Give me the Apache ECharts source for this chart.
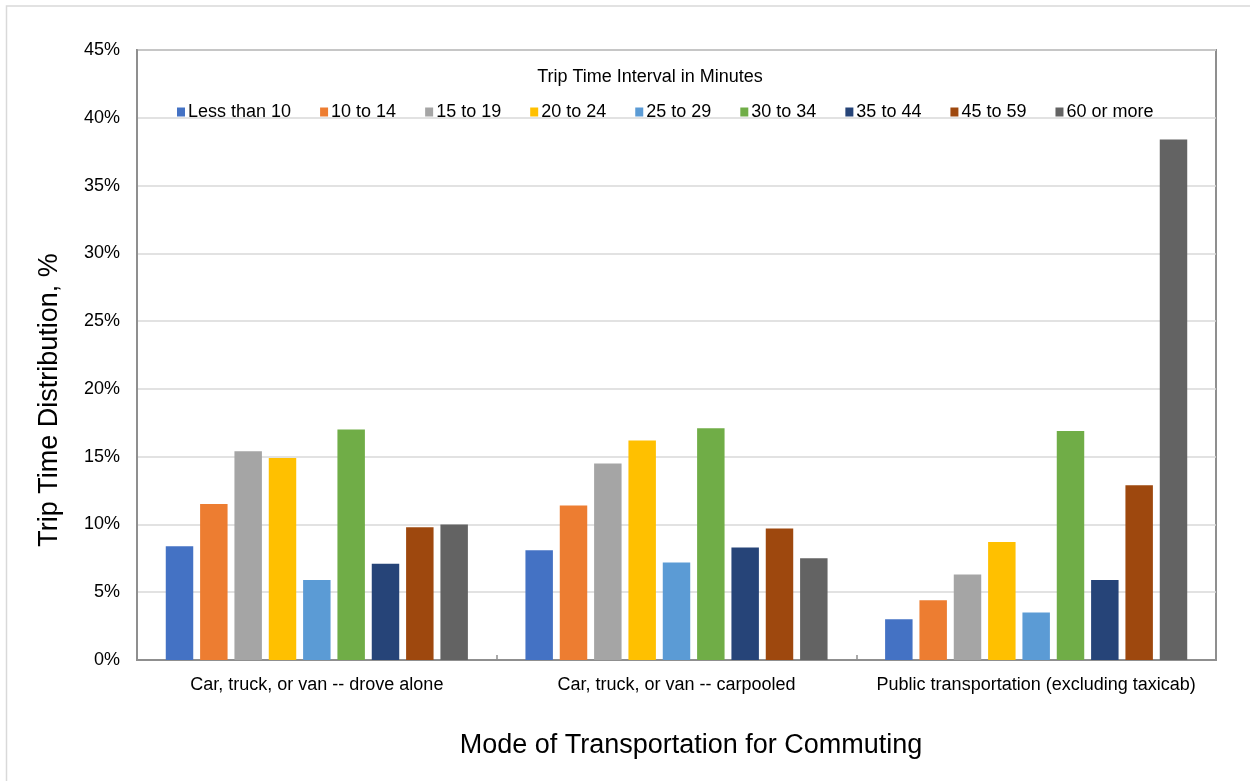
<!DOCTYPE html>
<html>
<head>
<meta charset="utf-8">
<script src="https://cdn.jsdelivr.net/npm/echarts@6/dist/echarts.min.js"></script>
<style>html,body{margin:0;padding:0;background:#fff;}#c{width:1250px;height:781px;}</style>
</head>
<body>
<div id="c"></div>
<script>
const categories = ["Car, truck, or van -- drove alone", "Car, truck, or van -- carpooled", "Public transportation (excluding taxicab)"];
const seriesNames = ["Less than 10", "10 to 14", "15 to 19", "20 to 24", "25 to 29", "30 to 34", "35 to 44", "45 to 59", "60 or more"];
const lessThan10 = [8.4, 8.1, 3.0];
const from10to14 = [11.5, 11.4, 4.4];
const from15to19 = [15.4, 14.5, 6.3];
const from20to24 = [14.9, 16.2, 8.7];
const from25to29 = [5.9, 7.2, 3.5];
const from30to34 = [17.0, 17.1, 16.9];
const from35to44 = [7.1, 8.3, 5.9];
const from45to59 = [9.8, 9.7, 12.9];
const sixtyOrMore = [10.0, 7.5, 38.4];
const yTicks = [0, 5, 10, 15, 20, 25, 30, 35, 40, 45];

const seriesData = [lessThan10, from10to14, from15to19, from20to24, from25to29, from30to34, from35to44, from45to59, sixtyOrMore];
const colors = ["#4472C4", "#ED7D31", "#A5A5A5", "#FFC000", "#5B9BD5", "#70AD47", "#264478", "#9E480E", "#636363"];
const font = "Liberation Sans, Arial, sans-serif";

const chart = echarts.init(document.getElementById('c'), null, {renderer: 'canvas'});
chart.setOption({
  animation: false,
  color: colors,
  textStyle: {fontFamily: font, color: '#000'},
  title: {
    text: 'Trip Time Interval in Minutes',
    left: 645, top: 63, textAlign: 'center',
    textStyle: {fontFamily: font, fontSize: 18, fontWeight: 'normal', color: '#000'}
  },
  legend: {
    data: seriesNames,
    left: 172, top: 98,
    itemWidth: 8, itemHeight: 9, itemGap: 29,
    icon: 'rect',
    textStyle: {fontFamily: font, fontSize: 18, color: '#000', padding: [0, 0, 0, -2]}
  },
  grid: {left: 137, right: 34, top: 50, bottom: 121, show: true, borderColor: '#8f8f8f', borderWidth: 2, containLabel: false},
  xAxis: {
    type: 'category',
    data: categories,
    axisLine: {lineStyle: {color: '#8f8f8f', width: 2}},
    axisTick: {show: true, inside: true, length: 5, interval: 0, lineStyle: {color: '#8f8f8f', width: 1.5}},
    axisLabel: {fontFamily: font, fontSize: 18, color: '#000', margin: 16, interval: 0}
  },
  yAxis: {
    type: 'value',
    min: 0, max: 45, interval: 5,
    axisLine: {show: true, lineStyle: {color: '#8f8f8f', width: 2}},
    axisTick: {show: false},
    splitLine: {lineStyle: {color: '#d9d9d9', width: 1.5}},
    axisLabel: {fontFamily: font, fontSize: 18, color: '#000', margin: 17, formatter: v => yTicks.includes(v) ? v + '%' : ''}
  },
  graphic: [
    {type: 'rect', shape: {x: 6.5, y: 6, width: 1400, height: 1000}, style: {fill: 'none', stroke: '#d9d9d9', lineWidth: 1.5}, silent: true, z: -1},
    {type: 'text', x: 691, y: 746, style: {text: 'Mode of Transportation for Commuting', font: '27px ' + font, fill: '#000', textAlign: 'center', textVerticalAlign: 'middle'}},
    {type: 'text', x: 50, y: 400, rotation: Math.PI / 2, style: {text: 'Trip Time Distribution, %', font: '27px ' + font, fill: '#000', textAlign: 'center', textVerticalAlign: 'middle'}}
  ],
  series: seriesNames.map((n, i) => ({
    name: n, type: 'bar', data: seriesData[i],
    barCategoryGap: '16%', barGap: '25%',
    itemStyle: {color: colors[i]}
  }))
});
</script>
</body>
</html>
